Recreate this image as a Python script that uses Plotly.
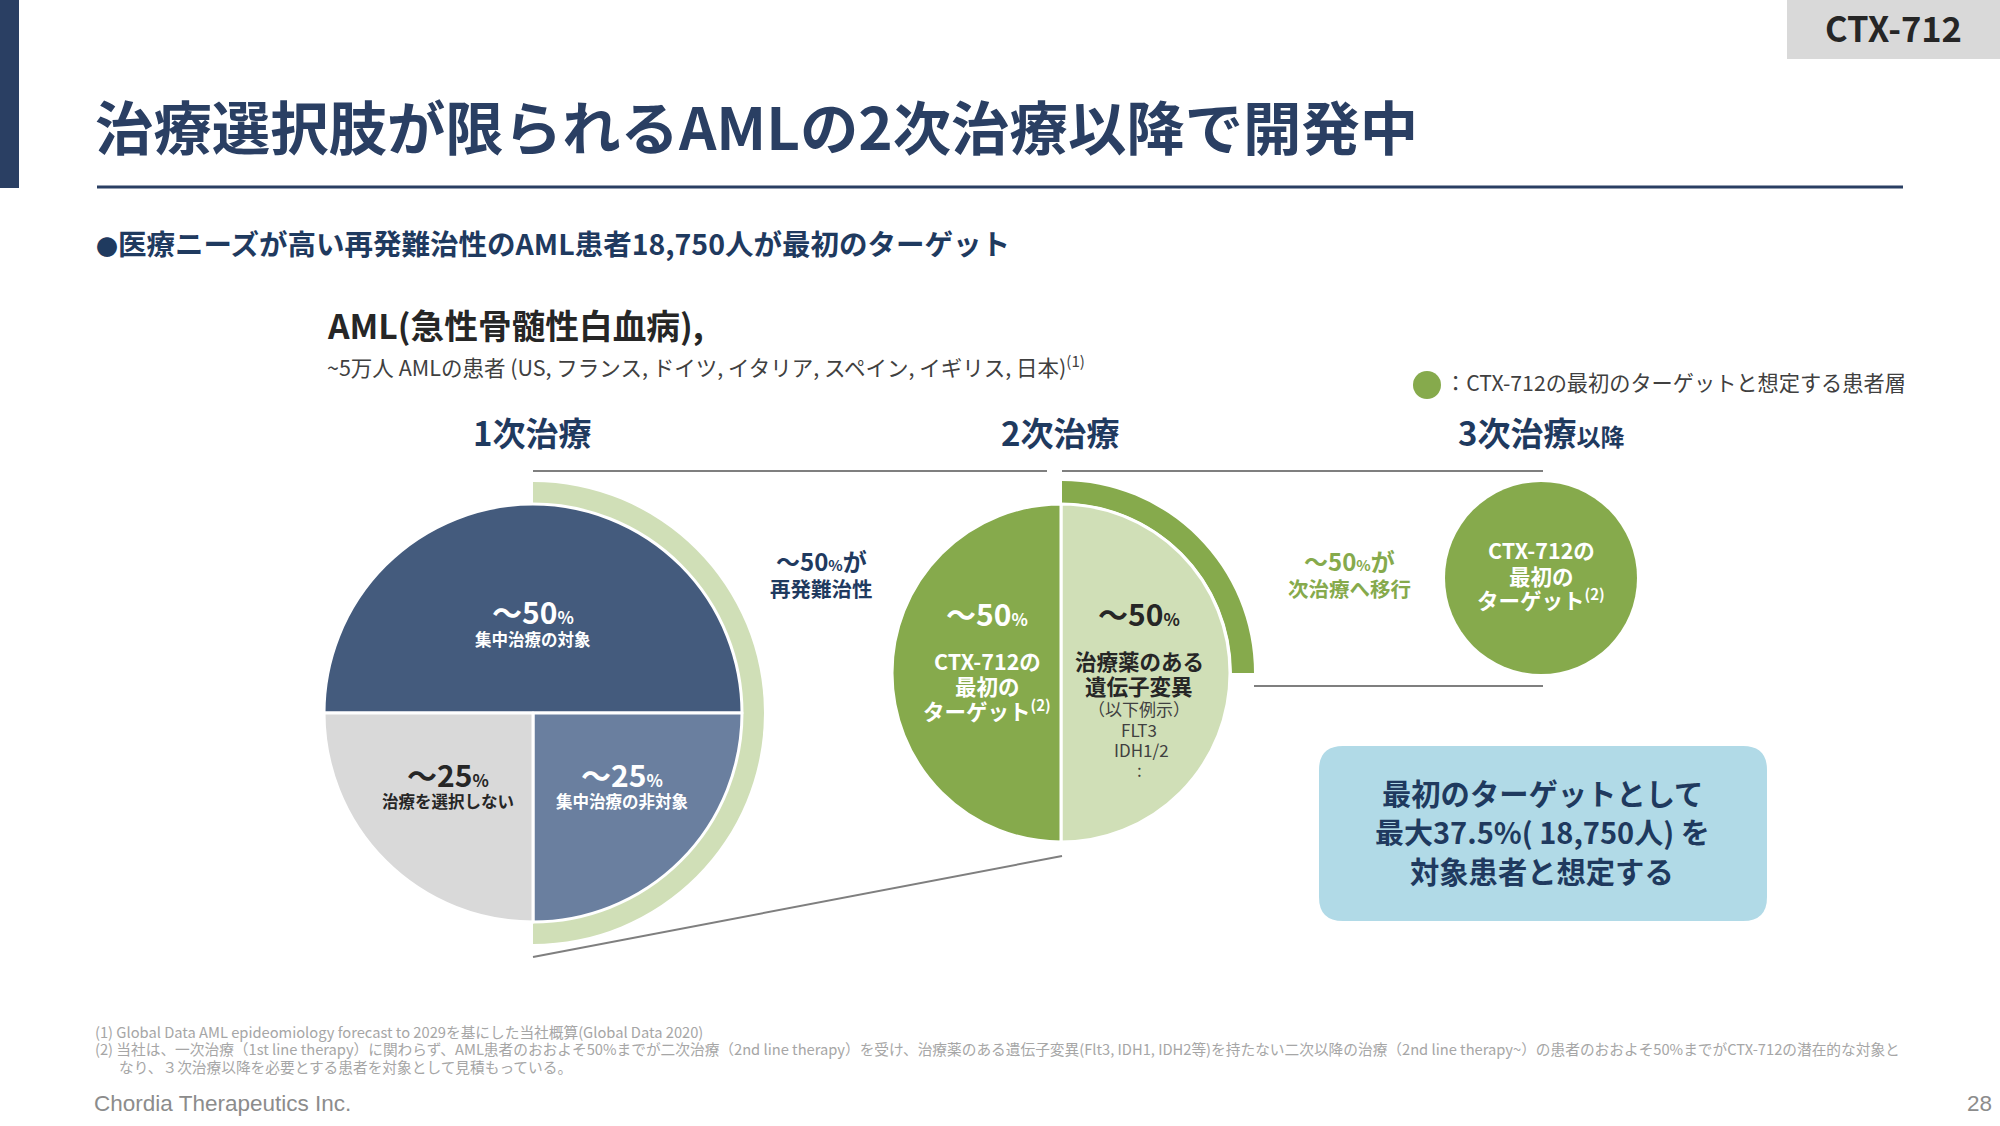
import plotly.graph_objects as go

W = 2000
H = 1126
JP = "Noto Sans CJK JP"

NAVY = "#2a3f63"
TEXT_NAVY = "#1f3a5f"
DARK = "#262626"
GREEN = "#86aa4c"
LIGHT_GREEN = "#d0dfb7"

# shares, percent
first_line_labels = ["集中治療の対象", "集中治療の非対象", "治療を選択しない"]
first_line_values = [50, 25, 25]
first_line_colors = ["#445b7d", "#6a7f9f", "#d9d9d9"]

relapse_ring_values = [50, 50]
second_line_labels = ["治療薬のある遺伝子変異", "CTX-712の最初のターゲット"]
second_line_values = [50, 50]
second_line_colors = [LIGHT_GREEN, GREEN]

next_line_ring_values = [25, 75]
third_line_values = [100]

legend_x = [1427]
legend_y = [385]


def pie_domain(cx, cy, r):
    return dict(x=[(cx - r) / W, (cx + r) / W], y=[1 - (cy + r) / H, 1 - (cy - r) / H])


def pct(num, small):
    return f'～{num}<span style="font-size:{small}px">%</span>'


fig = go.Figure()

fig.add_trace(go.Scatter(x=legend_x, y=legend_y, mode="markers",
                         marker=dict(size=28, color=GREEN), hoverinfo="skip", showlegend=False))

# first line pie and the ring that marks the relapsed half
fig.add_trace(go.Pie(values=relapse_ring_values, domain=pie_domain(533, 713, 231), hole=0.905,
                     sort=False, direction="clockwise", rotation=0, textinfo="none", hoverinfo="skip",
                     marker=dict(colors=[LIGHT_GREEN, "rgba(0,0,0,0)"], line=dict(width=0)), showlegend=False))
fig.add_trace(go.Pie(labels=first_line_labels, values=first_line_values, domain=pie_domain(533, 713, 209),
                     sort=False, direction="clockwise", rotation=270, textinfo="none", hoverinfo="skip",
                     marker=dict(colors=first_line_colors, line=dict(color="white", width=3)), showlegend=False))

# second line pie and its ring
fig.add_trace(go.Pie(values=next_line_ring_values, domain=pie_domain(1062, 673, 192), hole=0.885,
                     sort=False, direction="clockwise", rotation=0, textinfo="none", hoverinfo="skip",
                     marker=dict(colors=[GREEN, "rgba(0,0,0,0)"], line=dict(width=0)), showlegend=False))
fig.add_trace(go.Pie(labels=second_line_labels, values=second_line_values, domain=pie_domain(1061, 673, 169),
                     sort=False, direction="clockwise", rotation=0, textinfo="none", hoverinfo="skip",
                     marker=dict(colors=second_line_colors, line=dict(color="white", width=3)), showlegend=False))

# third line circle
fig.add_trace(go.Pie(values=third_line_values, domain=pie_domain(1541, 578, 96),
                     sort=False, textinfo="none", hoverinfo="skip",
                     marker=dict(colors=[GREEN], line=dict(width=0)), showlegend=False))


def rect(x0, y0, x1, y1, color):
    fig.add_shape(type="rect", x0=x0, y0=y0, x1=x1, y1=y1, fillcolor=color, line_width=0, layer="below")


def line(x0, y0, x1, y1, color="#7f7f7f", width=2):
    fig.add_shape(type="line", x0=x0, y0=y0, x1=x1, y1=y1, line=dict(color=color, width=width))


def label(x, y, text, size, color=DARK, bold=False, anchor="center", family=JP):
    fig.add_annotation(x=x, y=y, text=text, showarrow=False, xanchor=anchor, yanchor="middle",
                       borderpad=0, borderwidth=0,
                       font=dict(family=family, size=size, color=color, weight=700 if bold else 400))


# slide furniture
rect(0, 0, 19, 188, NAVY)
rect(1787, 0, 2000, 59, "#d9d9d9")
line(97, 187, 1903, 187, NAVY, 3)
line(533, 471, 1047, 471)
line(1062, 471, 1543, 471)
line(1254, 686, 1543, 686)
line(533, 957, 1062, 856)

# rounded callout
x0, y0, x1, y1, rr = 1319, 746, 1767, 921, 24
fig.add_shape(type="path", fillcolor="#b1dae7", line_width=0, layer="below",
              path=f"M {x0+rr} {y0} L {x1-rr} {y0} Q {x1} {y0} {x1} {y0+rr} L {x1} {y1-rr} Q {x1} {y1} {x1-rr} {y1} "
                   f"L {x0+rr} {y1} Q {x0} {y1} {x0} {y1-rr} L {x0} {y0+rr} Q {x0} {y0} {x0+rr} {y0} Z")

# header texts
label(1893, 27, "CTX-712", 34.5, DARK, True)
label(95, 124.5, "治療選択肢が限られるAMLの2次治療以降で開発中", 58.4, NAVY, True, "left")
label(96, 242.5, '<span style="font-size:22px">●</span>医療ニーズが高い再発難治性のAML患者18,750人が最初のターゲット', 28.5, TEXT_NAVY, True, "left")
label(327, 324.5, "AML(急性骨髄性白血病),", 33.7, DARK, True, "left")
label(327, 365.5, "~5万人 AMLの患者 (US, フランス, ドイツ, イタリア, スペイン, イギリス, 日本)<sup>(1)</sup>", 21.5, "#404040", False, "left")
label(1906, 381.5, "：CTX-712の最初のターゲットと想定する患者層", 21.2, "#404040", False, "right")

label(532, 431.5, "1次治療", 33, TEXT_NAVY, True)
label(1060, 431.5, "2次治療", 33, TEXT_NAVY, True)
label(1541, 431.5, '3次治療<span style="font-size:24px">以降</span>', 33, TEXT_NAVY, True)

# first pie
label(533, 611, pct(50, 17), 30, "white", True)
label(533, 639, first_line_labels[0], 16.5, "white", True)
label(448, 773.5, pct(25, 17), 30, DARK, True)
label(448, 801, first_line_labels[2], 16.5, DARK, True)
label(622, 773.5, pct(25, 17), 30, "white", True)
label(622, 801, first_line_labels[1], 16.5, "white", True)

label(821, 560, pct(50, 15) + "が", 24, TEXT_NAVY, True)
label(821, 588, "再発難治性", 20.5, TEXT_NAVY, True)

# second pie
label(987, 612.5, pct(50, 17), 30, "white", True)
label(987, 660, "CTX-712の", 21.5, "white", True)
label(987, 685, "最初の", 21.5, "white", True)
label(987, 710, "ターゲット<sup>(2)</sup>", 21.5, "white", True)
label(1139, 612.5, pct(50, 17), 30, DARK, True)
label(1139, 660, "治療薬のある", 21.5, DARK, True)
label(1139, 685, "遺伝子変異", 21.5, DARK, True)
label(1139, 708, "（以下例示）", 17, "#404040")
label(1139, 729, "FLT3", 17, "#404040")
label(1141, 749, "IDH1/2", 17, "#404040")
label(1139, 769, ":", 17, "#404040")

label(1349, 560, pct(50, 15) + "が", 24, GREEN, True)
label(1349, 588, "次治療へ移行", 20.5, GREEN, True)

# third circle
label(1541, 549, "CTX-712の", 21.5, "white", True)
label(1541, 575, "最初の", 21.5, "white", True)
label(1541, 599, "ターゲット<sup>(2)</sup>", 21.5, "white", True)

# callout text
label(1542, 791.5, "最初のターゲットとして", 29.3, TEXT_NAVY, True)
label(1542, 830.5, "最大37.5%( 18,750人) を", 29, TEXT_NAVY, True)
label(1542, 869.5, "対象患者と想定する", 29.3, TEXT_NAVY, True)

# footnotes
label(95, 1031, "(1) Global Data AML epideomiology forecast to 2029を基にした当社概算(Global Data 2020)", 14.7, "#a6a6a6", False, "left")
label(95, 1048, "(2) 当社は、一次治療（1st line therapy）に関わらず、AML患者のおおよそ50%までが二次治療（2nd line therapy）を受け、治療薬のある遺伝子変異(Flt3, IDH1, IDH2等)を持たない二次以降の治療（2nd line therapy~）の患者のおおよそ50%までがCTX-712の潜在的な対象と", 14.7, "#a6a6a6", False, "left")
label(119, 1066, "なり、３次治療以降を必要とする患者を対象として見積もっている。", 14.7, "#a6a6a6", False, "left")
label(94, 1103, "Chordia Therapeutics Inc.", 22.5, "#8c8c8c", False, "left", "Liberation Sans")
label(1992, 1103, "28", 22.5, "#8c8c8c", False, "right", "Liberation Sans")

fig.update_layout(width=W, height=H, margin=dict(l=0, r=0, t=0, b=0), paper_bgcolor="white", plot_bgcolor="white",
                  showlegend=False, hovermode=False,
                  xaxis=dict(range=[0, W], visible=False, fixedrange=True),
                  yaxis=dict(range=[H, 0], visible=False, fixedrange=True))

# the page's default body margin would push the slide 8px in
fig.write_html("out.html", config=dict(displayModeBar=False), post_script="document.body.style.margin = '0';")
